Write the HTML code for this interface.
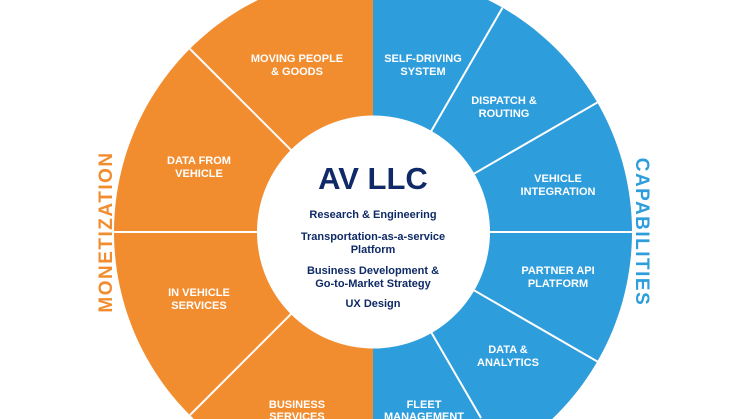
<!DOCTYPE html>
<html><head><style>
html,body{margin:0;padding:0;background:#fff;width:746px;height:419px;overflow:hidden;}
svg{display:block;overflow:hidden;}
text{font-family:"Liberation Sans",sans-serif;font-weight:bold;}
.w{fill:#fff;font-size:11px;text-anchor:middle;}
.n{fill:#0f2a66;font-size:11px;text-anchor:middle;}
</style></head><body>
<svg width="746" height="419" viewBox="0 0 746 419" xmlns="http://www.w3.org/2000/svg">
<path d="M373 0 L257.9 0 A259 259 0 0 0 193.8 419 L373 419 Z" fill="#f28d2f"/>
<path d="M373 0 L488.1 0 A259 259 0 0 1 552.2 419 L373 419 Z" fill="#2e9ddc"/>
<g stroke="#fff" stroke-width="2">
<line x1="373" y1="232" x2="190" y2="49"/>
<line x1="373" y1="232" x2="190" y2="415"/>
<line x1="373" y1="232" x2="114" y2="232"/>
<line x1="373" y1="232" x2="632" y2="232"/>
<line x1="373" y1="232" x2="502.5" y2="7.7"/>
<line x1="373" y1="232" x2="597.3" y2="102.5"/>
<line x1="373" y1="232" x2="597.3" y2="361.5"/>
<line x1="373" y1="232" x2="481" y2="418"/>
</g>
<circle cx="373.5" cy="232" r="116.5" fill="#fff"/>
<text class="w" x="297" y="62">MOVING PEOPLE</text><text class="w" x="297" y="75">&amp; GOODS</text>
<text class="w" x="199" y="164">DATA FROM</text><text class="w" x="199" y="177">VEHICLE</text>
<text class="w" x="199" y="296">IN VEHICLE</text><text class="w" x="199" y="309">SERVICES</text>
<text class="w" x="297" y="408">BUSINESS</text><text class="w" x="297" y="420">SERVICES</text>
<text class="w" x="423" y="62">SELF-DRIVING</text><text class="w" x="423" y="75">SYSTEM</text>
<text class="w" x="504" y="104">DISPATCH &amp;</text><text class="w" x="504" y="117">ROUTING</text>
<text class="w" x="558" y="182">VEHICLE</text><text class="w" x="558" y="195">INTEGRATION</text>
<text class="w" x="558" y="274">PARTNER API</text><text class="w" x="558" y="287">PLATFORM</text>
<text class="w" x="508" y="353">DATA &amp;</text><text class="w" x="508" y="366">ANALYTICS</text>
<text class="w" x="424" y="408">FLEET</text><text class="w" x="424" y="420">MANAGEMENT</text>
<text x="373" y="189" fill="#0f2a66" font-size="31" text-anchor="middle">AV LLC</text>
<text class="n" x="373" y="218">Research &amp; Engineering</text>
<text class="n" x="373" y="240">Transportation-as-a-service</text>
<text class="n" x="373" y="253">Platform</text>
<text class="n" x="373" y="274">Business Development &amp;</text>
<text class="n" x="373" y="287">Go-to-Market Strategy</text>
<text class="n" x="373" y="307">UX Design</text>
<text transform="translate(112,232) rotate(-90)" fill="#f28d2f" font-size="19" letter-spacing="1.5" text-anchor="middle">MONETIZATION</text>
<text transform="translate(636,232) rotate(90)" fill="#2e9ddc" font-size="19" letter-spacing="1.5" text-anchor="middle">CAPABILITIES</text>
</svg>
</body></html>
